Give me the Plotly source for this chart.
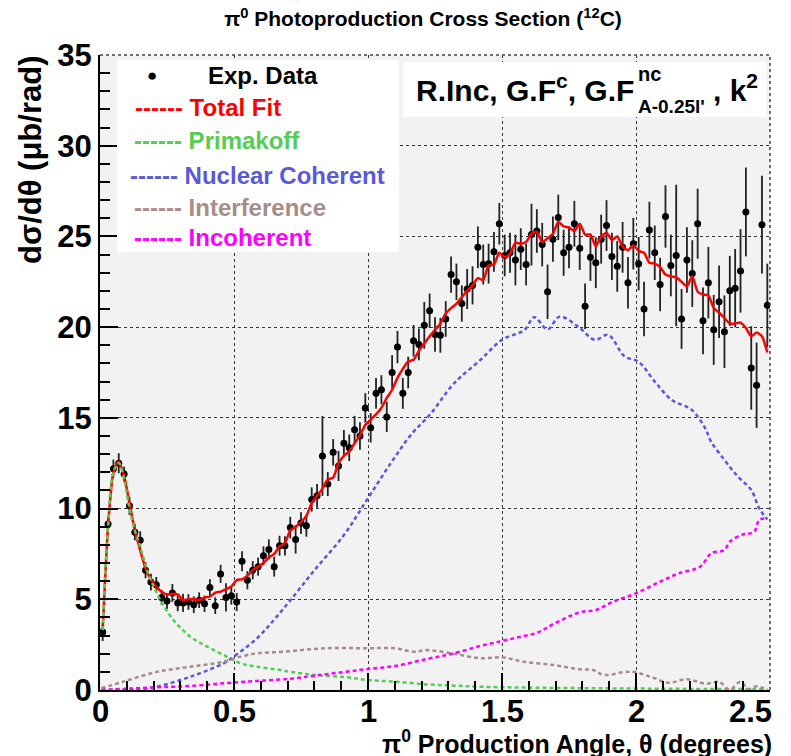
import plotly.graph_objects as go

# ---------------- data ----------------
theta = [round(0.01 + 0.02 * i, 2) for i in range(125)]

xsec = [3.2, 9.15, 12.2, 12.5, 11.9, 10.15, 8.7, 8.25, 6.6, 5.95,
        5.8, 5.1, 4.9, 5.35, 4.8, 4.8, 4.85, 4.7, 4.95, 4.75,
        5.65, 4.65, 6.4, 5.1, 5.2, 4.85, 7.1, 6.05, 6.6, 6.8,
        7.4, 7.75, 6.8, 7.95, 7.95, 8.95, 8.3, 9.2, 9.05, 10.5,
        10.7, 12.9, 11.35, 13.1, 12.35, 13.6, 13.35, 14.35, 14.0, 15.55,
        14.45, 16.35, 16.55, 15.05, 17.5, 18.9, 16.35, 17.5, 19.25, 19.05,
        20.1, 20.9, 19.6, 19.55, 20.45, 22.9, 22.5, 21.3, 22.1, 22.3,
        24.4, 23.45, 23.5, 24.15, 25.7, 23.95, 24.1, 23.7, 24.3, 23.45,
        25.1, 25.3, 24.55, 21.95, 24.85, 26.05, 24.1, 24.4, 25.7, 24.35,
        21.15, 23.85, 23.55, 24.85, 25.6, 23.9, 23.35, 24.4, 22.45, 24.6,
        23.5, 21.0, 25.35, 24.1, 22.35, 26.1, 23.4, 23.95, 20.45, 23.7,
        22.95, 25.7, 20.35, 22.45, 19.85, 21.4, 19.75, 22.0, 22.15, 23.1,
        26.35, 17.75, 16.8, 25.65, 21.2]

xsec_err = [0.5, 0.41, 0.5, 0.55, 0.41, 0.5, 0.45, 0.5, 0.44, 0.46,
            0.43, 0.41, 0.44, 0.49, 0.46, 0.5, 0.43, 0.46, 0.43, 0.45,
            0.46, 0.46, 0.5, 0.78, 0.5, 0.5, 0.55, 0.5, 0.5, 0.5,
            0.52, 0.55, 0.55, 0.55, 0.53, 0.6, 0.78, 0.6, 0.6, 0.67,
            0.65, 2.2, 0.66, 0.73, 0.83, 0.73, 0.73, 0.76, 0.76, 0.81,
            0.81, 0.85, 0.8, 0.83, 0.96, 0.89, 0.85, 0.87, 0.87, 0.87,
            1.29, 0.95, 0.95, 0.96, 0.98, 1.0, 1.0, 1.0, 1.1, 1.05,
            1.15, 1.1, 1.1, 1.1, 1.15, 1.15, 1.1, 1.4, 1.15, 1.15,
            1.7, 1.2, 1.2, 1.5, 1.25, 1.25, 1.27, 1.15, 1.26, 1.2,
            1.25, 1.3, 1.4, 1.35, 1.4, 1.3, 1.4, 1.4, 1.42, 1.42,
            1.47, 1.5, 1.56, 1.5, 1.47, 1.72, 1.7, 3.9, 1.65, 1.8,
            1.84, 1.93, 1.84, 1.97, 1.93, 2.0, 2.0, 1.93, 2.16, 2.3,
            2.45, 2.3, 2.35, 2.7, 2.3]

total_fit = [3.3, 9.0, 12.0, 12.6, 11.8, 10.3, 8.8, 7.7, 6.7, 6.1,
             5.7, 5.42, 5.27, 5.3, 5.27, 4.96, 5.0, 5.0, 4.96, 5.1,
             5.15, 5.36, 5.42, 5.55, 5.7, 6.06, 6.1, 6.3, 6.6, 6.8,
             7.0, 7.3, 7.5, 7.9, 8.1, 8.8, 9.0, 9.25, 9.6, 10.3,
             10.7, 11.1, 11.6, 11.7, 12.5, 12.9, 13.15, 13.6, 14.05, 14.6,
             14.9, 15.2, 15.55, 16.1, 16.55, 17.2, 17.7, 18.1, 18.2, 18.7,
             19.1, 19.5, 19.85, 20.2, 20.75, 21.05, 21.3, 21.65, 22.0, 22.3,
             22.7, 22.6, 23.4, 23.45, 24.1, 23.85, 24.05, 24.65, 24.6, 24.7,
             25.15, 25.25, 24.7, 24.9, 25.15, 25.8, 25.55, 25.5, 25.3, 25.7,
             25.1, 25.1, 24.45, 25.0, 25.2, 24.8, 25.0, 24.45, 24.25, 24.5,
             24.2, 24.1, 23.55, 23.5, 23.3, 22.9, 22.8, 22.75, 22.5, 22.25,
             22.8, 21.95, 21.8, 21.75, 21.05, 20.8, 20.5, 20.2, 20.2, 20.25,
             19.95, 19.5, 19.7, 19.5, 18.6]

prim_x = [0.01, 0.03, 0.05, 0.07, 0.09, 0.11, 0.13, 0.15, 0.17, 0.19,
          0.225, 0.274, 0.337, 0.40, 0.461, 0.524, 0.586, 0.674, 0.711, 0.80,
          0.92, 1.0, 1.1, 1.22, 1.32, 1.42, 1.6, 1.8, 2.0, 2.2, 2.49]
prim_y = [3.3, 9.0, 12.0, 12.5, 11.6, 10.0, 8.8, 7.9, 6.9, 6.06,
          4.96, 3.86, 2.94, 2.39, 1.93, 1.47, 1.28, 1.10, 1.0, 0.83,
          0.70, 0.55, 0.46, 0.31, 0.24, 0.18, 0.13, 0.10, 0.08, 0.06, 0.05]

coh_x = [0.005, 0.10, 0.16, 0.212, 0.337, 0.461, 0.499, 0.586, 0.649, 0.711,
         0.80, 0.91, 1.0, 1.085, 1.16, 1.235, 1.31, 1.347, 1.42, 1.50,
         1.584, 1.62, 1.67, 1.715, 1.784, 1.846, 1.896, 1.958, 2.009, 2.07,
         2.133, 2.208, 2.258, 2.28, 2.33, 2.38, 2.43, 2.46, 2.49]
coh_y = [0.0, 0.01, 0.06, 0.18, 0.73, 1.47, 1.84, 2.85, 3.86, 4.96,
         6.6, 8.54, 10.57, 12.5, 14.06, 15.25, 16.72, 17.27, 18.2, 19.3,
         19.85, 20.55, 19.88, 20.58, 20.03, 19.3, 19.57, 18.38, 18.1, 17.0,
         15.99, 15.44, 14.43, 13.69, 12.68, 11.76, 11.03, 10.0, 9.4]

intf_x = [0.005, 0.087, 0.212, 0.337, 0.461, 0.524, 0.586, 0.686, 0.84, 1.0,
          1.1, 1.17, 1.22, 1.32, 1.42, 1.50, 1.58, 1.69, 1.79, 1.84,
          1.88, 1.98, 2.06, 2.12, 2.19, 2.26, 2.31, 2.35, 2.39, 2.42,
          2.45, 2.49]
intf_y = [0.1, 0.46, 1.0, 1.28, 1.56, 1.84, 2.02, 2.11, 2.3, 2.3,
          2.3, 2.11, 2.2, 2.0, 1.75, 1.8, 1.56, 1.38, 1.14, 1.1,
          0.83, 1.01, 0.70, 0.40, 0.59, 0.35, 0.45, 0.02, 0.45, 0.05,
          0.2, 0.0]

incoh_x = [0.005, 0.1, 0.212, 0.337, 0.461, 0.586, 0.711, 0.80, 0.92, 1.0,
           1.10, 1.22, 1.32, 1.42, 1.50, 1.57, 1.63, 1.69, 1.79, 1.85,
           1.915, 2.0, 2.09, 2.16, 2.24, 2.28, 2.33, 2.35, 2.40, 2.44,
           2.46, 2.49]
incoh_y = [0.0, 0.07, 0.15, 0.22, 0.37, 0.5, 0.62, 0.79, 1.01, 1.16,
           1.32, 1.71, 2.02, 2.43, 2.70, 2.94, 3.15, 3.62, 4.28, 4.41,
           4.87, 5.33, 5.97, 6.43, 6.80, 7.53, 7.72, 8.18, 8.58, 8.7,
           9.37, 9.46]

xtick_vals = [0, 0.5, 1, 1.5, 2, 2.5]
xtick_text = ["0", "0.5", "1", "1.5", "2", "2.5"]

legend_labels = ["Exp. Data", "Total Fit", "Primakoff", "Nuclear Coherent",
                 "Interference", "Incoherent"]

# ---------------- styling ----------------
RED = "#ff0000"
GREEN = "#55cc55"
BLUE = "#5a5ad6"
ROSY = "#a88c8c"
MAGENTA = "#ff00ff"
FONT = "Liberation Sans, Arial, sans-serif"

W, H = 791, 756
L, R, T, B = 100, 770, 55, 690          # plot area in pixels


def px(xp):
    return (xp - L) / (R - L)


def py(yp):
    return (B - yp) / (B - T)


fig = go.Figure()

fig.add_trace(go.Scatter(
    x=theta, y=xsec, mode="markers",
    marker=dict(color="black", size=7),
    error_y=dict(type="data", array=xsec_err, color="#222222", thickness=1.8, width=0),
    showlegend=False))

fig.add_trace(go.Scatter(x=theta, y=total_fit, mode="lines",
                         line=dict(color=RED, width=2.5, shape="spline", smoothing=0.6),
                         showlegend=False))
dash = "4px,3px"
fig.add_trace(go.Scatter(x=prim_x, y=prim_y, mode="lines",
                         line=dict(color=GREEN, width=2.5, dash=dash, shape="spline"),
                         showlegend=False))
fig.add_trace(go.Scatter(x=coh_x, y=coh_y, mode="lines",
                         line=dict(color=BLUE, width=2.5, dash=dash, shape="spline"),
                         showlegend=False))
fig.add_trace(go.Scatter(x=intf_x, y=intf_y, mode="lines",
                         line=dict(color=ROSY, width=2.5, dash=dash, shape="spline"),
                         showlegend=False))
fig.add_trace(go.Scatter(x=incoh_x, y=incoh_y, mode="lines",
                         line=dict(color=MAGENTA, width=2.5, dash=dash, shape="spline"),
                         showlegend=False))

TICK_SIZE = 31
tickfont = dict(family=FONT, size=TICK_SIZE, color="black", weight="bold")

fig.update_xaxes(range=[0, 2.5], tickmode="array", tickvals=xtick_vals,
                 showticklabels=False, ticks="inside", ticklen=17,
                 tickwidth=1.5, tickcolor="black",
                 showline=True, linecolor="black", linewidth=2,
                 showgrid=True, gridcolor="#333333", griddash="dot", gridwidth=1,
                 zeroline=False, automargin=False,
                 minor=dict(dtick=0.1, tick0=0, ticks="inside", ticklen=9, tickwidth=1.5,
                            tickcolor="black", showgrid=False))
fig.update_yaxes(range=[0, 35], tick0=0, dtick=5, ticks="inside", ticklen=18,
                 tickwidth=1.5, tickcolor="black", tickfont=tickfont,
                 showline=True, linecolor="black", linewidth=2,
                 showgrid=True, gridcolor="#333333", griddash="dot", gridwidth=1,
                 zeroline=False, automargin=False,
                 minor=dict(dtick=1, ticks="inside", ticklen=10, tickwidth=1.5,
                            tickcolor="black", showgrid=False))

shapes = [
    # top and right frame
    dict(type="line", xref="paper", yref="paper", x0=0, x1=1, y0=1, y1=1,
         line=dict(color="#444444", width=1.5, dash="dot"), layer="above"),
    dict(type="line", xref="paper", yref="paper", x0=1, x1=1, y0=0, y1=1,
         line=dict(color="#444444", width=1.5, dash="dot"), layer="above"),
    # legend box
    dict(type="rect", xref="paper", yref="paper", x0=px(117), x1=px(399), y0=py(252), y1=py(60),
         fillcolor="white", line=dict(width=0), layer="above"),
    # label box
    dict(type="rect", xref="paper", yref="paper", x0=px(403), x1=px(766), y0=py(117), y1=py(62),
         fillcolor="white", line=dict(width=0), layer="above"),
]

legfont = 24
annotations = []


def ann(text, xpix, ypix, size, color="black", xanchor="left", yanchor="middle", angle=0):
    annotations.append(dict(
        text=text, xref="paper", yref="paper", x=px(xpix), y=py(ypix),
        xanchor=xanchor, yanchor=yanchor, showarrow=False, textangle=angle,
        font=dict(family=FONT, size=size, color=color, weight="bold")))


# x tick labels (last one kept inside the frame, as in the original)
for v, t in zip(xtick_vals, xtick_text):
    last = v == xtick_vals[-1]
    annotations.append(dict(
        text=t, xref="x", yref="paper", x=v, y=py(711),
        xanchor="right" if last else "center", yanchor="middle",
        xshift=4 if last else 0, showarrow=False,
        font=dict(family=FONT, size=TICK_SIZE, color="black", weight="bold")))

# legend
ann("●", 152, 76, 17, "black", xanchor="center")
ann(legend_labels[0], 206, 76, legfont)
ann("------ " + legend_labels[1], 133, 107, legfont, RED)
ann("------ " + legend_labels[2], 132, 140, legfont, GREEN)
ann("------ " + legend_labels[3], 128, 175, legfont, BLUE)
ann("------ " + legend_labels[4], 132, 207, legfont, ROSY)
ann("------ " + legend_labels[5], 132, 238, legfont, MAGENTA)

# label box text
ann("R.Inc, G.F<sup>c</sup>, G.F", 636, 88, 30, xanchor="right")
ann("nc", 636, 74, 20)
ann("A-0.25l'", 636, 106, 19)
ann(", k<sup>2</sup>", 711, 88, 30)

# axis titles
ann("π<sup>0</sup> Production Angle, θ (degrees)", 774, 742, 25, xanchor="right")
ann("dσ/dθ (μb/rad)", 31, 54, 31, xanchor="center", yanchor="top", angle=-90)

fig.update_layout(
    width=W, height=H,
    margin=dict(l=L, r=W - R, t=T, b=H - B, pad=0),
    paper_bgcolor="white", plot_bgcolor="#f2f2f2",
    title=dict(text="π<sup>0</sup> Photoproduction Cross Section (<sup>12</sup>C)",
               x=423 / W, xanchor="center", y=1 - 19 / H, yanchor="middle",
               font=dict(family=FONT, size=21, color="black", weight="bold")),
    shapes=shapes, annotations=annotations,
    showlegend=False,
)

# remove the default 8px page margin so the figure sits at the window origin
fig.write_html("out.html", config={"displayModeBar": False},
               post_script="document.body.style.margin='0px';")
